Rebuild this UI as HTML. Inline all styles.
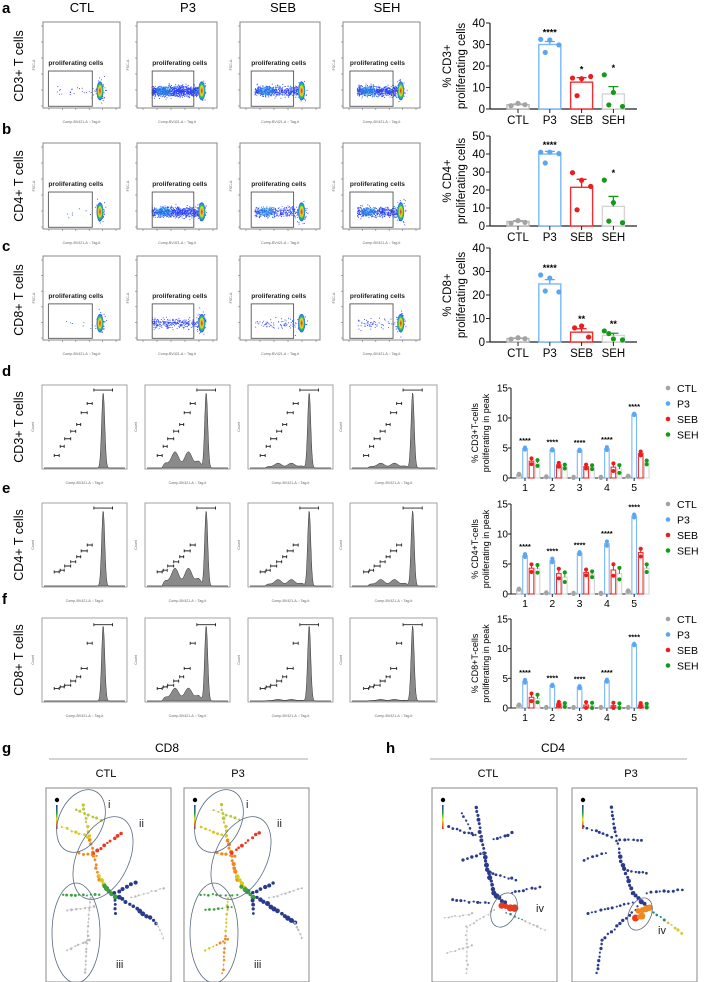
<!DOCTYPE html>
<html><head><meta charset="utf-8"><style>
html,body{margin:0;padding:0;background:#fff;}
svg{display:block;font-family:"Liberation Sans",Arial,sans-serif;}
</style></head><body>
<svg id="fig" width="704" height="982" viewBox="0 0 704 982" xmlns="http://www.w3.org/2000/svg">
<rect width="704" height="982" fill="#fff"/>
<g font-weight="bold" font-size="15" fill="#000">
<text x="2" y="13">a</text>
<text x="2" y="134">b</text>
<text x="2" y="251">c</text>
<text x="2" y="376">d</text>
<text x="2" y="493">e</text>
<text x="2" y="604">f</text>
<text x="2" y="753">g</text>
<text x="386" y="753">h</text>
</g>
<g font-size="13" text-anchor="middle">
<text x="82" y="12">CTL</text>
<text x="188" y="12">P3</text>
<text x="283" y="12">SEB</text>
<text x="387" y="12">SEH</text>
</g>
<g font-size="12.5" text-anchor="middle">
<text transform="translate(23,66) rotate(-90)">CD3+ T cells</text>
<text transform="translate(23,186) rotate(-90)">CD4+ T cells</text>
<text transform="translate(23,300) rotate(-90)">CD8+ T cells</text>
<text transform="translate(23,427) rotate(-90)">CD3+ T cells</text>
<text transform="translate(23,545) rotate(-90)">CD4+ T cells</text>
<text transform="translate(23,660) rotate(-90)">CD8+ T cells</text>
</g>
<g font-size="11" text-anchor="middle">
<text x="167" y="752" font-size="12">CD8</text>
<line x1="49" y1="759" x2="308" y2="759" stroke="#aaa" stroke-width="1"/>
<text x="106" y="777">CTL</text>
<text x="238" y="777">P3</text>
<text x="553" y="752" font-size="12">CD4</text>
<line x1="430" y1="759" x2="687" y2="759" stroke="#aaa" stroke-width="1"/>
<text x="488" y="777">CTL</text>
<text x="631" y="777">P3</text>
</g>
</svg>
<script>
const svg=document.getElementById('fig');
const NS='http://www.w3.org/2000/svg';
function mk(tag,attrs,parent){const e=document.createElementNS(NS,tag);for(const k in attrs)e.setAttribute(k,attrs[k]);(parent||svg).appendChild(e);return e;}
let seed=7;function rnd(){seed=(seed*16807)%2147483647;return seed/2147483647;}
function gs(){return (rnd()+rnd()+rnd()+rnd()-2)/1.15;}

/* ---------- bar chart data (a-c) ---------- */
const groupNames=['CTL','P3','SEB','SEH'];
const aMeans=[2.0,30.0,12.5,7.0];
const aDots=[[1.5,2.6,2.0],[32.4,32.1,29.8,26.3],[14.4,14.1,15.1,6.2],[15.9,7.7,1.2,1.9]];
const aStars=['','****','*','*'];
const aTicks=[0,10,20,30,40];
const bMeans=[2.5,40.0,21.5,10.9];
const bDots=[[1.5,3.0,2.0],[41,41,40.2,35],[29.6,25.4,22,9],[25.5,13,1.8,2.7]];
const bStars=['','****','','*'];
const bTicks=[0,10,20,30,40,50];
const cMeans=[1.5,24.7,4.2,2.8];
const cDots=[[1.2,1.8,1.4],[28.5,27.2,21.3,21.7],[6.0,6.8,2.1],[4.7,1.3,0.9,3.6]];
const cStars=['','****','**','**'];
const cTicks=[0,10,20,30,40];

/* ---------- grouped bar data (d-f), peaks 1..5, values per group ---------- */
const peaks=['1','2','3','4','5'];
const dCTL=[0.6,0.2,0.1,0.1,0.3], dP3=[4.9,4.7,4.6,4.9,10.6], dSEB=[2.8,2.2,1.9,1.8,4.1], dSEH=[2.5,1.9,1.8,1.5,2.6];
const eCTL=[0.8,0.2,0.1,0.1,0.5], eP3=[6.4,5.6,6.8,8.4,13.0], eSEB=[4.3,3.4,3.6,4.0,6.9], eSEH=[4.2,2.8,3.3,3.4,4.3];
const fCTL=[0.5,0.1,0.1,0.1,0.1], fP3=[4.5,3.8,3.5,4.6,10.7], fSEB=[1.8,0.7,0.5,0.4,0.5], fSEH=[1.6,0.5,0.4,0.3,0.4];
const dSpread=[0.3,0.2,0.2,0.4,0.2], eSpread=[0.4,0.5,0.3,0.6,0.4], fSpread=[0.4,0.2,0.3,0.3,0.2];
const peakTicks=[0,5,10,15];
const peakStars=['****','****','****','****','****'];

const COL={CTL:'#a3a3a3',P3:'#5ba6f2',SEB:'#ee1d1d',SEH:'#15991b'};
const OUT={CTL:'#b8b8b8',P3:'#7ab8f7',SEB:'#f03030',SEH:'#d4d4d4'};

function barChart(cfg){
  const g=mk('g',{});
  
  
  const X0=490, xEnd=637, yB=cfg.yBase, yT=cfg.yTop, mx=cfg.ticks[cfg.ticks.length-1];
  const ys=v=>yB-(v/mx)*(yB-yT);
  const xs=i=>518+i*31.8;
  const ax=mk('line',{x1:X0,y1:yT,x2:X0,y2:yB,stroke:'#222','stroke-width':1.2},g);
  
  const bx=mk('line',{x1:X0,y1:yB,x2:xEnd,y2:yB,stroke:'#222','stroke-width':1.2},g);
  
  cfg.ticks.forEach(t=>{
    const tl=mk('line',{x1:X0-4,y1:ys(t),x2:X0,y2:ys(t),stroke:'#222','stroke-width':1},g);
    
    const tt=mk('text',{x:X0-5,y:ys(t)+4,'font-size':11.5,'text-anchor':'end'},g);tt.textContent=t;
    
  });
  const t1=mk('text',{transform:`translate(451,${(yT+yB)/2}) rotate(-90)`,'font-size':11.5,'text-anchor':'middle'},g);t1.textContent=cfg.label1;
  
  const t2=mk('text',{transform:`translate(465,${(yT+yB)/2}) rotate(-90)`,'font-size':11.5,'text-anchor':'middle'},g);t2.textContent='proliferating cells';
  
  groupNames.forEach((n,i)=>{
    const cx=xs(i),w=22,v=cfg.means[i];
    const r=mk('rect',{x:cx-w/2,y:ys(v),width:w,height:yB-ys(v),fill:'#fff',stroke:OUT[n],'stroke-width':1.4},g);
    
    const d=cfg.dots[i];const m=d.reduce((a,b)=>a+b,0)/d.length;
    const sd=Math.sqrt(d.reduce((a,b)=>a+(b-m)*(b-m),0)/(d.length-1))/Math.sqrt(d.length);
    const eb=mk('path',{d:`M${cx},${ys(v)}V${ys(v+sd)}M${cx-5},${ys(v+sd)}H${cx+5}`,stroke:COL[n],'stroke-width':1.3,fill:'none'},g);
    
    const offs=[-7,0,7,-3.5,3.5];
    d.forEach((dv,j)=>{
      const c=mk('circle',{cx:cx+offs[j%5]*(d.length>3?1.3:1),cy:ys(dv),r:2.6,fill:COL[n]},g);
      
    });
    const tk=mk('line',{x1:cx,y1:yB,x2:cx,y2:yB+4,stroke:'#222'},g);
    
    const lb=mk('text',{x:cx,y:yB+15,'font-size':11.5,'text-anchor':'middle'},g);lb.textContent=n;
    
    if(cfg.stars[i]){const s=mk('text',{x:cx,y:ys(Math.max(...d))-4,'font-size':9,'font-weight':'bold','text-anchor':'middle'},g);s.textContent=cfg.stars[i];
      }
  });
}
barChart({name:'chart-a-cd3',yTop:23,yBase:109,ticks:aTicks,means:aMeans,dots:aDots,stars:aStars,label1:'% CD3+'});
barChart({name:'chart-b-cd4',yTop:136,yBase:226,ticks:bTicks,means:bMeans,dots:bDots,stars:bStars,label1:'% CD4+'});
barChart({name:'chart-c-cd8',yTop:248,yBase:342,ticks:cTicks,means:cMeans,dots:cDots,stars:cStars,label1:'% CD8+'});

function peakChart(cfg){
  const g=mk('g',{});
  
  
  const X0=511,xEnd=649,yB=cfg.yBase,yT=cfg.yTop,mx=15;
  const ys=v=>yB-(v/mx)*(yB-yT);
  const xs=i=>527+i*27.3;
  const ax=mk('line',{x1:X0,y1:yT,x2:X0,y2:yB,stroke:'#222','stroke-width':1.1},g);
  
  const bx=mk('line',{x1:X0,y1:yB,x2:xEnd,y2:yB,stroke:'#222','stroke-width':1.1},g);
  
  peakTicks.forEach(t=>{
    const tl=mk('line',{x1:X0-3,y1:ys(t),x2:X0,y2:ys(t),stroke:'#222'},g);
    
    const tt=mk('text',{x:X0-3,y:ys(t)+3.5,'font-size':10,'text-anchor':'end'},g);tt.textContent=t;
    
  });
  const t1=mk('text',{transform:`translate(478,${(yT+yB)/2}) rotate(-90)`,'font-size':9,'text-anchor':'middle'},g);t1.textContent=cfg.label1;
  
  const t2=mk('text',{transform:`translate(489,${(yT+yB)/2}) rotate(-90)`,'font-size':9,'text-anchor':'middle'},g);t2.textContent='proliferating in peak';
  
  const series=[['CTL',cfg.ctl,-8],['P3',cfg.p3,-2],['SEB',cfg.seb,4.5],['SEH',cfg.seh,10.5]];
  peaks.forEach((p,i)=>{
    const cx=xs(i);
    series.forEach(([n,arr,off])=>{
      const v=arr[i],bx2=cx+off,sp=(n==='CTL'?0.1:(n==='P3'?cfg.spread[i]*0.6:cfg.spread[i]*1.6));
      const r=mk('rect',{x:bx2-2.3,y:ys(v),width:4.6,height:yB-ys(v),fill:'#fff',stroke:OUT[n],'stroke-width':1.1},g);
      
      const eb=mk('path',{d:`M${bx2},${ys(v)}V${ys(v+sp)}M${bx2-2},${ys(v+sp)}H${bx2+2}`,stroke:COL[n],'stroke-width':1},g);
      
      [v+sp,Math.max(0,v-sp)].forEach(dv=>{
        const c=mk('circle',{cx:bx2,cy:ys(dv),r:2,fill:COL[n]},g);
        
      });
    });
    const s=mk('text',{x:cx-2,y:ys(cfg.p3[i]+cfg.spread[i])-4,'font-size':7.5,'font-weight':'bold','text-anchor':'middle'},g);s.textContent=peakStars[i];
    
    const tk=mk('line',{x1:cx-2,y1:yB,x2:cx-2,y2:yB+3,stroke:'#222'},g);
    
    const lb=mk('text',{x:cx-2,y:yB+13,'font-size':10.5,'text-anchor':'middle'},g);lb.textContent=p;
    
  });
  groupNames.forEach((n,i)=>{
    const c=mk('circle',{cx:668,cy:yT+i*15.5,r:2.3,fill:COL[n]},g);
    
    const t=mk('text',{x:677,y:yT+i*15.5+4,'font-size':10.5},g);t.textContent=n;
    
  });
}
peakChart({name:'chart-d-cd3-peaks',yTop:388,yBase:478,ctl:dCTL,p3:dP3,seb:dSEB,seh:dSEH,spread:dSpread,label1:'% CD3+T-cells'});
peakChart({name:'chart-e-cd4-peaks',yTop:504,yBase:594,ctl:eCTL,p3:eP3,seb:eSEB,seh:eSEH,spread:eSpread,label1:'% CD4+T-cells'});
peakChart({name:'chart-f-cd8-peaks',yTop:619,yBase:708,ctl:fCTL,p3:fP3,seb:fSEB,seh:fSEH,spread:fSpread,label1:'% CD8+T-cells'});

/* ---------- flow cytometry plots ---------- */
const defs=mk('defs',{});
const rg=mk('radialGradient',{id:'core'},defs);
[['0','#d62020'],['0.3','#f0a020'],['0.5','#e8e020'],['0.68','#30c040'],['0.85','#10a0e0'],['1','#2a3cff']].forEach(([o,c])=>mk('stop',{offset:o,'stop-color':c},rg));
const flowCols=[[43,120],[137,217],[240,320],[343,420]];
const flowRows=[[22,108],[143,229],[256,340]];
const gateS=[0.07,0.19,0.14,0.09],gateE=[0.64,0.71,0.67,0.65];
const bandN=[[25,900,520,620],[8,700,330,450],[8,260,70,60]];
flowRows.forEach(([y0,y1],r)=>{
  flowCols.forEach(([x0,x1],c)=>{
    const g=mk('g',{});
    
    
    const w=x1-x0,h=y1-y0;
    const bxr=mk('rect',{x:x0,y:y0,width:w,height:h,fill:'#fff',stroke:'#888','stroke-width':1},g);
    
    for(let k=0;k<6;k++){const tl=mk('line',{x1:x0-2,y1:y0+4+k*(h-6)/5,x2:x0,y2:y0+4+k*(h-6)/5,stroke:'#777','stroke-width':0.6},g);
      }
    for(let k=0;k<6;k++){const tl=mk('line',{x1:x0+6+k*(w-10)/5,y1:y1,x2:x0+6+k*(w-10)/5,y2:y1+2,stroke:'#777','stroke-width':0.6},g);
      }
    const xl=mk('text',{x:x0+w/2,y:y1+15,'font-size':3.6,'text-anchor':'middle',fill:'#666'},g);xl.textContent='Comp-BV421-A :: Tag-it';
    
    const yl=mk('text',{transform:`translate(${x0-8},${y0+h/2}) rotate(-90)`,'font-size':3.6,'text-anchor':'middle',fill:'#666'},g);yl.textContent='FSC-A';
    
    const coreX=x0+(gateE[c]+0.1)*w, coreY=y0+0.8*h;
    const n=bandN[r][c];
    for(let k=0;k<n;k++){
      const px=x0+w*(0.18+rnd()*(gateE[c]+0.05-0.18)), py=coreY+gs()*h*0.06;
      const d=mk('rect',{x:px,y:py,width:0.9,height:0.9,fill:rnd()<0.15?'#27c':'#2a3cff'},g);
      
    }
    for(let k=0;k<50;k++){
      const px=coreX+gs()*w*0.06,py=coreY+gs()*h*0.12;
      const d=mk('rect',{x:px,y:py,width:0.9,height:0.9,fill:'#2a3cff'},g);
      
    }
    if(c>0&&r<2){const bl=mk('ellipse',{cx:x0+w*0.33,cy:coreY,rx:w*0.1,ry:h*0.05,fill:'#1ea0e0',opacity:0.5},g);
      }
    const ce=mk('ellipse',{cx:coreX,cy:coreY,rx:w*0.045,ry:h*0.11,fill:'url(#core)'},g);
    
    const gate=mk('rect',{x:x0+gateS[c]*w,y:y0+0.57*h,width:(gateE[c]-gateS[c])*w,height:0.41*h,fill:'none',stroke:'#555','stroke-width':0.9},g);
    
    const gl=mk('text',{x:x0+gateS[c]*w,y:y0+0.5*h,'font-size':6.6,fill:'#222','font-weight':'bold'},g);gl.textContent='proliferating cells';
    
  });
});

/* ---------- histograms ---------- */
const histCols=[[42,127],[145,230],[248,333],[350,437]];
const histRows=[[385,469],[503,587],[618,702]];
const bumpH=[[0,0.2,0.06,0.06],[0,0.22,0.08,0.08],[0,0.16,0.02,0.02]];
const bracketY=[[0.06,0.22,0.33,0.47,0.55,0.64,0.73,0.84],[0.06,0.5,0.57,0.64,0.7,0.75,0.8,0.82],[0.08,0.3,0.6,0.7,0.75,0.8,0.82,0.84]];
histRows.forEach(([y0,y1],r)=>{
  histCols.forEach(([x0,x1],c)=>{
    const g=mk('g',{});
    
    
    const w=x1-x0,h=y1-y0;
    const fr=mk('rect',{x:x0,y:y0,width:w,height:h,fill:'#fff',stroke:'#999','stroke-width':0.9},g);
    
    let d=`M${x0+2},${y1-1}`;
    const pk=x0+0.72*w;
    for(let x=x0+2;x<=x1-2;x+=0.5){
      const f=(x-x0)/w;
      let v=0.93*Math.exp(-Math.pow((x-pk)/2.2,2));
      const b=bumpH[r][c];
      if(b>0&&f>0.2&&f<0.68){v+=b*(0.7+0.3*Math.sin(f*40))*Math.min(1,(f-0.2)*12)*Math.min(1,(0.68-f)*12);}
      d+=`L${x},${y1-1-v*(h-3)}`;
    }
    d+=`L${x1-2},${y1-1}Z`;
    const p=mk('path',{d:d,fill:'#8a8a8a',stroke:'#333','stroke-width':0.5},g);
    
    const by=bracketY[r];
    for(let k=0;k<8;k++){
      const bw=k===0?w*0.22:4+(k%3);
      const bxc=k===0?pk:pk-8-k*5.5;
      const yy=y0+by[k]*h;
      const br=mk('path',{d:`M${bxc-bw/2},${yy-1.5}V${yy+1.5}M${bxc-bw/2},${yy}H${bxc+bw/2}M${bxc+bw/2},${yy-1.5}V${yy+1.5}`,stroke:'#222','stroke-width':0.9,fill:'none'},g);
      
    }
    const xl=mk('text',{x:x0+w/2,y:y1+15,'font-size':3.6,'text-anchor':'middle',fill:'#666'},g);xl.textContent='Comp-BV421-A :: Tag-it';
    
    const yl=mk('text',{transform:`translate(${x0-8},${y0+h/2}) rotate(-90)`,'font-size':3.6,'text-anchor':'middle',fill:'#666'},g);yl.textContent='Count';
    
  });
});

/* ---------- trees (g, h) ---------- */
const BLUE='#2b3a8c';
function tree(ox,oy,segs,ellipses){
  const g=mk('g',{});
  
  
  const fr=mk('rect',{x:ox,y:oy,width:125,height:194,fill:'#fff',stroke:'#888','stroke-width':1},g);
  
  const lg=mk('circle',{cx:ox+11,cy:oy+12,r:2.2,fill:'#000'},g);
  
  const cb=mk('rect',{x:ox+10,y:oy+17,width:1.6,height:24,fill:'url(#cbar)'},g);
  
  segs.forEach(([x1,y1,x2,y2,c1,c2,sz])=>{
    const L=Math.hypot(x2-x1,y2-y1),n=Math.max(2,Math.round(L/4.2));
    const ln=mk('line',{x1:ox+x1,y1:oy+y1,x2:ox+x2,y2:oy+y2,stroke:'#ccc','stroke-width':0.4},g);
    
    for(let k=0;k<=n;k++){
      const t=k/n;
      const col=t<0.5?c1:c2;
      const d=mk('circle',{cx:ox+x1+(x2-x1)*t+gs()*0.8,cy:oy+y1+(y2-y1)*t+gs()*0.8,r:(sz||1.3)*(0.8+rnd()*0.5),fill:col},g);
      
    }
  });
  ellipses.forEach(([cx,cy,rx,ry,rot,lab,lx,ly])=>{
    const e=mk('ellipse',{cx:ox+cx,cy:oy+cy,rx:rx,ry:ry,transform:`rotate(${rot},${ox+cx},${oy+cy})`,fill:'none',stroke:'#5a6a80','stroke-width':0.8},g);
    
    const t=mk('text',{x:ox+lx,y:oy+ly,'font-size':11,fill:'#222'},g);t.textContent=lab;
    
  });
}
const cbg=mk('linearGradient',{id:'cbar',x1:0,y1:0,x2:0,y2:1},defs);
[['0',BLUE],['0.35','#2a9a40'],['0.6','#e0e020'],['1','#e02020']].forEach(([o,c])=>mk('stop',{offset:o,'stop-color':c},cbg));
const G='#bbb',YE='#d8c820',YG='#b8c830',OR='#f08a20',RD='#e83a20',GR='#3aa040',TE='#2a8a7a';
function gSegs(p3){
  const i3a=p3?GR:G,i3b=p3?YE:G,i3c=p3?OR:G;
  return [
    [37,17,44,52,YG,YE,1.4],[17,39,42,49,YE,YE,1.3],[30,22,55,32,YG,YG,1.2],
    [44,52,53,92,OR,OR,1.7],[48,65,75,45,RD,RD,1.5],[33,65,51,68,OR,OR,1.3],
    [53,88,60,100,YE,YE,2.2],
    [58,98,69,109,GR,GR,2.2],[69,105,89,95,BLUE,BLUE,1.8],[73,109,111,135,BLUE,BLUE,2],[111,135,118,150,G,G,1],
    [69,112,69,125,BLUE,BLUE,1.6],[85,110,118,100,G,G,1],
    [44,110,39,185,i3b,i3c,1.1],[21,122,48,119,i3a,i3a,1.1],[21,162,44,152,i3b,i3c,1.1],[17,107,53,107,GR,GR,1.2]
  ];
}
const gEll=[[35,33,22,33,25,'i',62,20],[57,70,26,44,25,'ii',93,39],[30,145,24,50,0,'iii',70,180]];
tree(46,788,gSegs(false),gEll);
tree(184,788,gSegs(true),gEll);
const hCtl=[
  [44,19,53,69,BLUE,BLUE,1.6],[53,69,62,105,BLUE,BLUE,2],[62,105,73,115,BLUE,BLUE,2.2],
  [17,39,48,49,BLUE,BLUE,1.3],[30,25,40,45,BLUE,BLUE,1.2],[62,52,80,45,BLUE,BLUE,1.3],[53,65,31,72,BLUE,BLUE,1.3],
  [57,85,84,92,BLUE,BLUE,1.3],[80,105,107,99,BLUE,BLUE,1.2],[21,112,57,115,BLUE,BLUE,1.2],
  [62,122,35,139,G,G,0.9],[35,139,35,185,G,G,0.9],[12,130,40,126,G,G,0.9],[15,165,40,158,G,G,0.9],
  [75,125,113,142,TE,G,1],[70,118,82,120,RD,RD,3]
];
tree(432,788,hCtl,[[72,122,12,18,25,'iv',104,124]]);
const hP3=[
  [39,19,48,69,BLUE,BLUE,1.4],[48,69,61,105,BLUE,BLUE,1.8],[61,105,75,119,BLUE,BLUE,2],
  [66,119,30,152,BLUE,BLUE,1.3],[30,152,25,185,BLUE,BLUE,1.3],[16,125,60,115,BLUE,BLUE,1.2],
  [75,105,110,102,BLUE,BLUE,1.3],[78,122,110,145,TE,YE,1.2],
  [12,39,39,49,BLUE,BLUE,1.2],[48,52,70,52,BLUE,BLUE,1.2],[34,65,12,72,BLUE,BLUE,1.2],[52,82,75,85,BLUE,BLUE,1.2],
  [66,123,78,120,OR,OR,3],[64,130,70,128,RD,OR,2.8]
];
tree(572,788,hP3,[[68,126,11,17,25,'iv',86,146]]);
</script>
</body></html>
